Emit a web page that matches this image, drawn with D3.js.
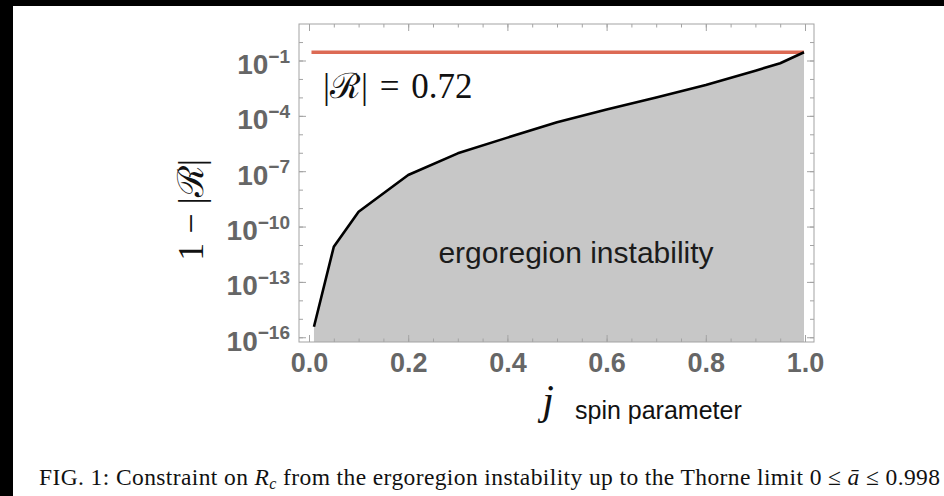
<!DOCTYPE html>
<html>
<head>
<meta charset="utf-8">
<script src="https://cdn.jsdelivr.net/npm/d3@7"></script>
<style>
  html, body { margin: 0; padding: 0; background: #fff; }
  svg { display: block; }
</style>
</head>
<body>
<svg id="chart" width="944" height="496"></svg>
<script>
// Spin parameter j and the gap 1 - |R| of the reflection coefficient
const spin = [0.01, 0.05, 0.1, 0.2, 0.3, 0.4, 0.5, 0.6, 0.7, 0.8, 0.9, 0.95, 0.998];
const gap  = [3.7e-16, 8.1e-12, 6.3e-10, 6.2e-8, 9.3e-7, 6.6e-6, 4.5e-5, 2.2e-4, 1.0e-3, 4.7e-3, 2.8e-2, 7.1e-2, 0.28];

// Constant reflectivity level and the spin range it is drawn over
const reflectivity = 0.72;
const limitRange = [0.005, 0.998];

// Tick labels
const xTickValues = [0, 0.2, 0.4, 0.6, 0.8, 1.0];
const xTickLabels = ["0.0", "0.2", "0.4", "0.6", "0.8", "1.0"];
const yTickExponents = [-1, -4, -7, -10, -13, -16];

const W = 944, H = 496;
const frame = { left: 299, right: 814, top: 24, bottom: 342 };
const svg = d3.select("#chart");

const sans = "'Liberation Sans', Arial, Helvetica, sans-serif";
const serif = "'Liberation Serif', 'Times New Roman', 'DejaVu Serif', serif";

// page and dark border strips
svg.append("rect").attr("width", W).attr("height", H).attr("fill", "#fff");
svg.append("rect").attr("x", 0).attr("y", 0).attr("width", W).attr("height", 6).attr("fill", "#000");
svg.append("rect").attr("x", 0).attr("y", 0).attr("width", 13).attr("height", H).attr("fill", "#000");

const x = d3.scaleLinear().domain([0, 1]).range([309, 805]);
const y = d3.scaleLog().domain([1e-16, 1e-1]).range([337.25, 60.5]);

const points = spin.map((j, i) => ({ j, g: gap[i] }));

// shaded unstable region under the curve
const area = d3.area()
  .x(d => x(d.j))
  .y0(frame.bottom)
  .y1(d => y(d.g));
svg.append("path").datum(points)
  .attr("d", area)
  .attr("fill", "#c7c7c7");

// level |R| = 0.72
const level = 1 - reflectivity;
svg.append("line")
  .attr("x1", x(limitRange[0])).attr("x2", x(limitRange[1]))
  .attr("y1", y(level)).attr("y2", y(level))
  .attr("stroke", "#dc6a54")
  .attr("stroke-width", 3.4);

// boundary curve
svg.append("path").datum(points)
  .attr("d", d3.line().x(d => x(d.j)).y(d => y(d.g)))
  .attr("fill", "none")
  .attr("stroke", "#000")
  .attr("stroke-width", 2.6)
  .attr("stroke-linejoin", "round");

// frame
svg.append("rect")
  .attr("x", frame.left).attr("y", frame.top)
  .attr("width", frame.right - frame.left)
  .attr("height", frame.bottom - frame.top)
  .attr("fill", "none")
  .attr("stroke", "#a3a3a3")
  .attr("stroke-width", 1);

function plain(g) {
  g.select(".domain").remove();
  g.selectAll(".tick line").attr("stroke", "#a3a3a3").attr("stroke-width", 1);
}

const xMinor = d3.range(0, 21).map(i => +(i * 0.05).toFixed(2));
const decades = d3.range(-16, 1).map(k => Math.pow(10, k));
const yMajor = yTickExponents.map(k => Math.pow(10, k));

// x ticks, bottom and top (inward)
svg.append("g").attr("transform", `translate(0,${frame.bottom})`)
  .call(d3.axisBottom(x).tickValues(xMinor).tickSize(-3.5).tickFormat(""))
  .call(plain);
svg.append("g").attr("transform", `translate(0,${frame.top})`)
  .call(d3.axisTop(x).tickValues(xMinor).tickSize(-3.5).tickFormat(""))
  .call(plain);
svg.append("g").attr("transform", `translate(0,${frame.top})`)
  .call(d3.axisTop(x).tickValues(xTickValues).tickSize(-7).tickFormat(""))
  .call(plain);

const xAxis = svg.append("g").attr("transform", `translate(0,${frame.bottom})`)
  .call(d3.axisBottom(x).tickValues(xTickValues).tickSize(-7).tickPadding(11)
    .tickFormat((d, i) => xTickLabels[i]))
  .call(plain);
xAxis.attr("font-family", null).attr("font-size", null);
xAxis.selectAll(".tick text")
  .attr("fill", "#666")
  .style("font-family", sans)
  .style("font-size", "27px")
  .style("font-weight", "bold");

// y ticks, left and right (inward)
svg.append("g").attr("transform", `translate(${frame.left},0)`)
  .call(d3.axisLeft(y).tickValues(decades).tickSize(-4).tickFormat(""))
  .call(plain);
svg.append("g").attr("transform", `translate(${frame.right},0)`)
  .call(d3.axisRight(y).tickValues(decades).tickSize(-4).tickFormat(""))
  .call(plain);
svg.append("g").attr("transform", `translate(${frame.right},0)`)
  .call(d3.axisRight(y).tickValues(yMajor).tickSize(-7).tickFormat(""))
  .call(plain);

const yAxis = svg.append("g").attr("transform", `translate(${frame.left},0)`)
  .call(d3.axisLeft(y).tickValues(yMajor).tickSize(-7).tickFormat(""))
  .call(plain);

// power-of-ten labels
yAxis.selectAll(".tick").each(function (d, i) {
  const t = d3.select(this).append("text")
    .attr("x", -9)
    .attr("y", 13)
    .attr("text-anchor", "end")
    .attr("fill", "#666")
    .style("font-family", sans)
    .style("font-weight", "bold");
  t.append("tspan").style("font-size", "28px").text("10");
  t.append("tspan").attr("dy", -11.5).style("font-size", "19px")
    .text("\u2212" + Math.abs(yTickExponents[i]));
});

// annotations
svg.append("text")
  .attr("x", 323).attr("y", 98)
  .style("font-family", serif)
  .style("font-size", "35px")
  .attr("fill", "#111")
  .attr("word-spacing", "3px")
  .text(`|\u211B| = ${reflectivity}`);

svg.append("text")
  .attr("x", 576).attr("y", 263)
  .attr("text-anchor", "middle")
  .style("font-family", sans)
  .style("font-size", "30px")
  .attr("fill", "#1b1b1b")
  .text("ergoregion instability");

// axis titles
svg.append("text")
  .attr("transform", "translate(203,210) rotate(-90)")
  .attr("text-anchor", "middle")
  .style("font-family", serif)
  .style("font-size", "36px")
  .attr("fill", "#111")
  .text("1 \u2212 |\u211B|");

svg.append("text")
  .attr("x", 548).attr("y", 414)
  .attr("text-anchor", "middle")
  .style("font-family", serif)
  .style("font-style", "italic")
  .style("font-size", "42px")
  .attr("fill", "#111")
  .text("j");

svg.append("text")
  .attr("x", 575).attr("y", 419)
  .style("font-family", sans)
  .style("font-size", "25px")
  .attr("fill", "#111")
  .text("spin parameter");

// caption
const cap = svg.append("text")
  .attr("x", 39).attr("y", 485)
  .style("font-family", serif)
  .style("font-size", "23.5px")
  .attr("fill", "#111");
cap.append("tspan").text("FIG. 1: Constraint on ");
cap.append("tspan").style("font-style", "italic").text("R");
cap.append("tspan").attr("dy", 4).style("font-style", "italic").style("font-size", "16px").text("c");
cap.append("tspan").attr("dy", -4).text(" from the ergoregion instability up to the Thorne limit 0 \u2264 ");
cap.append("tspan").style("font-style", "italic").text("\u0101");
cap.append("tspan").text(" \u2264 0.998");
cap.attr("textLength", 901).attr("lengthAdjust", "spacing");
</script>
</body>
</html>
